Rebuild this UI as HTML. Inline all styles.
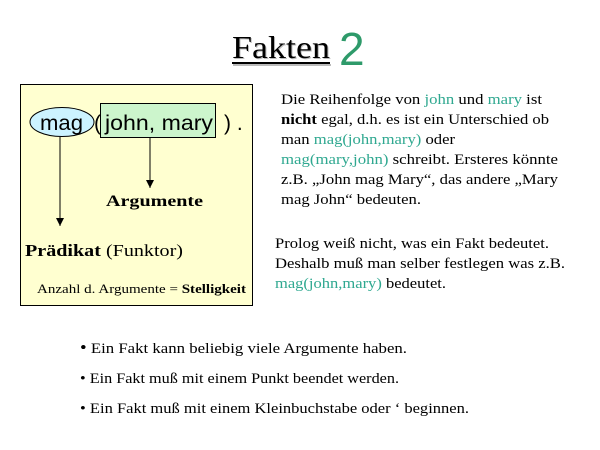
<!DOCTYPE html>
<html><head><meta charset="utf-8"><style>
html,body{margin:0;padding:0;background:#fff;width:600px;height:450px;overflow:hidden}
svg{display:block}
.t{font-family:"Liberation Serif",serif}
.a{font-family:"Liberation Sans",sans-serif}
.g{fill:#2fa890}
</style></head><body>
<svg width="600" height="450" viewBox="0 0 600 450">
<defs><marker id="ar" markerWidth="8" markerHeight="8" refX="8" refY="4" orient="auto" markerUnits="userSpaceOnUse"><path d="M0,0 L8,4 L0,8 z" fill="#000"/></marker></defs>
<!-- title -->
<text x="233" y="59" class="t" font-size="32" fill="#bbb" textLength="98" lengthAdjust="spacingAndGlyphs">Fakten</text>
<rect x="233" y="64" width="98" height="2" fill="#bbb"/>
<text x="232" y="58" class="t" font-size="32" fill="#000" textLength="98" lengthAdjust="spacingAndGlyphs">Fakten</text>
<rect x="232" y="62" width="98" height="2" fill="#000"/>
<text x="339" y="65" class="a" font-size="46" fill="#2e9a6a">2</text>
<!-- box -->
<rect x="20.5" y="84.5" width="232" height="221" fill="#ffffd0" stroke="#000"/>
<ellipse cx="62" cy="122" rx="32" ry="14.5" fill="#ccf3ff" stroke="#000"/>
<rect x="100.5" y="103.5" width="115" height="34" fill="#ccf5cc" stroke="#000"/>
<text x="40" y="130" class="a" font-size="21" textLength="43" lengthAdjust="spacingAndGlyphs">mag</text>
<text x="94" y="130" class="a" font-size="21">(</text>
<text x="105" y="130" class="a" font-size="21" textLength="108" lengthAdjust="spacingAndGlyphs">john, mary</text>
<text x="224" y="130" class="a" font-size="21">) .</text>
<line x1="60" y1="137" x2="60" y2="226" stroke="#000" marker-end="url(#ar)"/>
<line x1="150" y1="138" x2="150" y2="188" stroke="#000" marker-end="url(#ar)"/>
<text x="106" y="206" class="t" font-size="16" font-weight="bold" textLength="97" lengthAdjust="spacingAndGlyphs">Argumente</text>
<text x="25" y="256" class="t" font-size="17" textLength="158" lengthAdjust="spacingAndGlyphs"><tspan font-weight="bold">Prädikat</tspan> (Funktor)</text>
<text x="37" y="293" class="t" font-size="13" textLength="209" lengthAdjust="spacingAndGlyphs">Anzahl d. Argumente = <tspan font-weight="bold">Stelligkeit</tspan></text>
<!-- right text -->
<g class="t" font-size="15">
<text x="281" y="104" textLength="261" lengthAdjust="spacingAndGlyphs">Die Reihenfolge von <tspan class="g">john</tspan> und <tspan class="g">mary</tspan> ist</text>
<text x="281" y="124" textLength="268" lengthAdjust="spacingAndGlyphs"><tspan font-weight="bold">nicht</tspan> egal, d.h. es ist ein Unterschied ob</text>
<text x="281" y="144" textLength="174" lengthAdjust="spacingAndGlyphs">man <tspan class="g">mag(john,mary)</tspan> oder</text>
<text x="281" y="164" textLength="277" lengthAdjust="spacingAndGlyphs"><tspan class="g">mag(mary,john)</tspan> schreibt. Ersteres könnte</text>
<text x="281" y="184" textLength="277" lengthAdjust="spacingAndGlyphs">z.B. „John mag Mary“, das andere „Mary</text>
<text x="281" y="204" textLength="140" lengthAdjust="spacingAndGlyphs">mag John“ bedeuten.</text>
<text x="275" y="248" textLength="274" lengthAdjust="spacingAndGlyphs">Prolog weiß nicht, was ein Fakt bedeutet.</text>
<text x="275" y="268" textLength="290" lengthAdjust="spacingAndGlyphs">Deshalb muß man selber festlegen was z.B.</text>
<text x="275" y="288" textLength="171" lengthAdjust="spacingAndGlyphs"><tspan class="g">mag(john,mary)</tspan> bedeutet.</text>
<text x="80" y="353" textLength="327" lengthAdjust="spacingAndGlyphs"><tspan font-size="17">•</tspan> Ein Fakt kann beliebig viele Argumente haben.</text>
<text x="80" y="383" textLength="319" lengthAdjust="spacingAndGlyphs">• Ein Fakt muß mit einem Punkt beendet werden.</text>
<text x="80" y="413" textLength="389" lengthAdjust="spacingAndGlyphs">• Ein Fakt muß mit einem Kleinbuchstabe oder ‘ beginnen.</text>
</g>
</svg>
</body></html>
